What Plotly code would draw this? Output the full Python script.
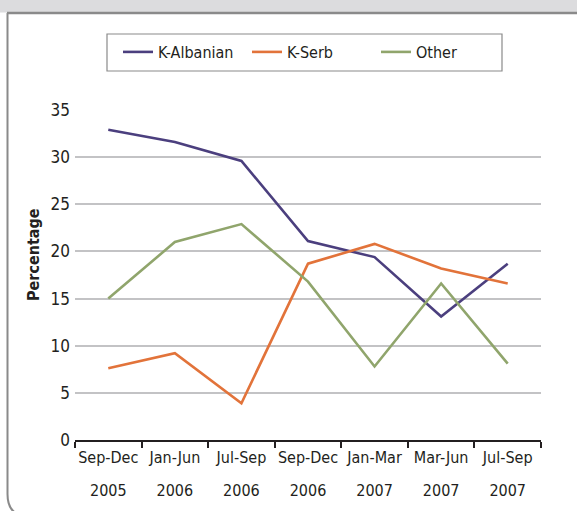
import plotly.graph_objects as go

periods = ["Sep-Dec", "Jan-Jun", "Jul-Sep", "Sep-Dec", "Jan-Mar", "Mar-Jun", "Jul-Sep"]
years = ["2005", "2006", "2006", "2006", "2007", "2007", "2007"]
k_albanian = [32.9, 31.6, 29.6, 21.1, 19.4, 13.1, 18.7]
k_serb = [7.6, 9.2, 3.9, 18.7, 20.8, 18.2, 16.6]
other = [15.0, 21.0, 22.9, 16.8, 7.8, 16.6, 8.1]
y_ticks = [0, 5, 10, 15, 20, 25, 30, 35]

FONT = "Liberation Sans Narrow, DejaVu Sans Condensed, Roboto Condensed, Arial Narrow, sans-serif"
TXT = "#231f20"

cats = [f"{p} {y}" for p, y in zip(periods, years)]

fig = go.Figure()
series = [("K-Albanian", k_albanian, "#4b3f7e"),
          ("K-Serb", k_serb, "#e2733a"),
          ("Other", other, "#90a56c")]
for name, vals, col in series:
    fig.add_trace(go.Scatter(x=cats, y=vals, name=name, mode="lines",
                             line=dict(color=col, width=2.6)))
# carrier for the second (year) label row
fig.add_trace(go.Scatter(x=list(range(len(years))), y=[None] * len(years), xaxis="x2",
                         showlegend=False, hoverinfo="skip", mode="lines"))

# plot geometry in pixels
L, R, T, B = 75, 541, 110, 440
W, H = R - L, B - T
def px(x):
    return (x - L) / W
def py(y):
    return (B - y) / H

shapes = [
    dict(type="rect", xref="paper", yref="paper", x0=px(-5), x1=px(600), y0=py(-5), y1=py(12.5),
         fillcolor="#dcdcde", line=dict(width=0), layer="above"),
    dict(type="line", xref="paper", yref="paper", x0=px(7), x1=px(600), y0=py(13), y1=py(13),
         line=dict(color="#8a8a8a", width=2.5), layer="above"),
    dict(type="path", xref="paper", yref="paper",
         path=f"M {px(7.5)},{py(13)} L {px(7.5)},{py(494)} Q {px(7.5)},{py(516)} {px(28)},{py(516)} L {px(600)},{py(516)}",
         line=dict(color="#8a8a8a", width=2), layer="above"),
    # legend frame
    dict(type="rect", xref="paper", yref="paper", x0=px(107), x1=px(502), y0=py(34), y1=py(71),
         line=dict(color="#8a8a8a", width=1.2), fillcolor="rgba(0,0,0,0)", layer="above"),
]

fig.update_layout(
    width=577, height=511,
    margin=dict(l=L, r=577 - R, t=T, b=511 - B, autoexpand=False),
    paper_bgcolor="white", plot_bgcolor="white",
    font=dict(family=FONT, size=16, color=TXT),
    shapes=shapes,
    showlegend=True,
    legend=dict(orientation="h", x=px(118), y=py(35), xanchor="left", yanchor="top",
                borderwidth=0, bgcolor="rgba(0,0,0,0)",
                font=dict(family=FONT, size=16, color=TXT),
                entrywidth=84, entrywidthmode="pixels", itemwidth=30),
    xaxis=dict(type="category", categoryorder="array", categoryarray=cats,
               tickvals=cats, ticktext=periods, tickson="boundaries",
               ticks="outside", ticklen=6, tickwidth=1.5, tickcolor="#231f20",
               showline=True, linecolor="#231f20", linewidth=1.5,
               showgrid=False, zeroline=False, range=[-0.5, 6.5], tickangle=0,
               tickfont=dict(size=16), ticklabelstandoff=2),
    xaxis2=dict(overlaying="x", side="bottom", range=[-0.5, 6.5], anchor="y",
                tickvals=list(range(len(years))), ticktext=years, tickangle=0,
                showgrid=False, zeroline=False, showline=False, ticks="",
                tickfont=dict(size=16), ticklabelstandoff=39),
    yaxis=dict(range=[0, 35], tickvals=y_ticks, showgrid=True, gridcolor="#c3c3c5",
               gridwidth=1.5, zeroline=False, showline=False, ticks="",
               tickfont=dict(size=17), ticklabelstandoff=4),
    annotations=[dict(text="<b>Percentage</b>", xref="paper", yref="paper",
                      x=px(33), y=py(255), xanchor="center", yanchor="middle",
                      textangle=-90, showarrow=False, font=dict(size=16, color=TXT))],
)

fig.write_html("out.html", post_script="document.body.style.margin='0';",
               config={"displayModeBar": False})
